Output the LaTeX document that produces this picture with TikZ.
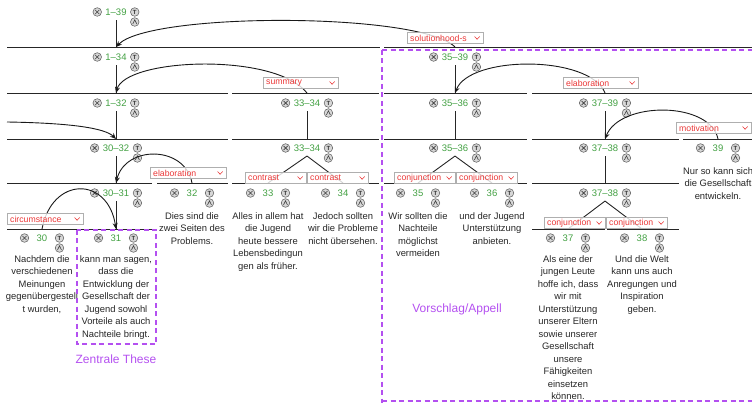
\documentclass[tikz,border=0pt]{standalone}
\usepackage{fontspec}
\setmainfont{Liberation Sans}
\usetikzlibrary{arrows.meta}
\definecolor{idgreen}{RGB}{66,160,66}
\definecolor{relred}{RGB}{235,55,55}
\definecolor{annpurple}{RGB}{180,80,240}
\definecolor{boxgray}{RGB}{175,175,175}
\definecolor{icongray}{RGB}{215,215,215}
\tikzset{
  spanline/.style={line width=0.9pt, black!85},
  rel/.style={line width=0.9pt, black!90, -{Stealth[length=6pt,width=5pt]}},
  idtext/.style={inner sep=0pt, text=idgreen, font=\fontsize{9.5}{11}\selectfont},
  leaftext/.style={inner sep=0pt, align=center, text=black!85, font=\fontsize{9.4}{12.5}\selectfont, anchor=north},
  relboxst/.style={draw=boxgray, fill=white, fill opacity=0.8, line width=0.6pt, inner sep=0pt, minimum height=11.5pt},
  reltext/.style={inner sep=0pt, text=relred, font=\fontsize{8.7}{10}\selectfont},
  annbox/.style={draw=annpurple, line width=1.5pt, dash pattern=on 5pt off 3.5pt},
  anndash/.style={draw=annpurple, line width=1.6pt},
  anntext/.style={text=annpurple, font=\fontsize{12}{14}\selectfont, inner sep=0pt},
  iconcirc/.style={fill=icongray, draw=black!65, line width=0.5pt},
  xicon/.pic={\draw[iconcirc] (0,0) circle (4.3pt); \draw[black!75, line width=0.6pt] (-2.1,-2.1) -- (2.1,2.1) (-2.1,2.1) -- (2.1,-2.1);},
  ticon/.pic={\draw[iconcirc] (0,0) circle (4.3pt); \node[font=\fontsize{6}{6}\selectfont\bfseries, text=black!80, inner sep=0pt] at (0,0) {T};},
  aicon/.pic={\draw[iconcirc] (0,0) circle (4.3pt); \draw[black!75, line width=0.6pt] (-2,2) -- (0,-2.2) -- (2,2);},
}
\newcommand\rstid[5]{%
  \node[idtext] (#1) at (#2,#3) {#4};
  \path (#1.west) ++(-#5,0) pic {xicon};
  \path (#1.east) ++(#5,0) pic {ticon};
  \path (#1.east) ++(#5,10) pic {aicon};
}
\newcommand\relbox[5]{%
  \node[relboxst, anchor=north west, minimum width=#4pt] (#1) at (#2,#3) {};
  \node[reltext, anchor=west] at ([xshift=3pt]#1.west) {#5};
  \draw[relred, line width=0.6pt] ([xshift=-9pt,yshift=1.5pt]#1.east) -- ([xshift=-6.5pt,yshift=-1.2pt]#1.east) -- ([xshift=-4pt,yshift=1.5pt]#1.east);
}
\begin{document}
\begin{tikzpicture}[x=1pt,y=-1pt]
\useasboundingbox (0,0) rectangle (752,403);

% annotation frame (right), drawn dash by dash
\foreach \x in {382,390.5,...,752} {
  \draw[anndash] (\x,50) -- ++(5,0);
  \draw[anndash] (\x,401) -- ++(5,0);
}
\foreach \y in {50,58.5,...,400} \draw[anndash] (382,\y) -- ++(0,5);

% span lines (tops of node boxes)
\foreach \a/\b/\y in {7/380/47, 384/752/47,
  7/228/93, 232/379/93, 384/527/93, 532/752/93,
  7/228/139, 232/379/139, 384/527/139, 532/679/139, 683/752/139,
  7/152/183, 157/228/183, 232/305/183, 308/379/183, 384/455/183, 457/527/183, 532/679/183,
  7/77/229, 79/153/229, 532/605/229, 607/679/229}
  \draw[spanline] (\a,\y) -- (\b,\y);

% box-top coordinates
\coordinate (t134) at (116,47);  \coordinate (t3539) at (455,47);
\coordinate (t132) at (116,93);  \coordinate (t3334a) at (307,93);
\coordinate (t3536a) at (455,93); \coordinate (t3739) at (605,93);
\coordinate (t3032) at (116,139); \coordinate (t3334b) at (307,139);
\coordinate (t3536b) at (455,139); \coordinate (t3738a) at (605,139);
\coordinate (t39) at (718,139);
\coordinate (t3031) at (116,183); \coordinate (t32) at (192,183);
\coordinate (t33) at (268,183); \coordinate (t34) at (343,183);
\coordinate (t35) at (418,183); \coordinate (t36) at (492,183);
\coordinate (t3738b) at (605,183);
\coordinate (t30) at (42,229); \coordinate (t31) at (116,229);
\coordinate (t37) at (568,229); \coordinate (t38) at (642,229);
\coordinate (offleft) at (7,122);

% node ids
\rstid{n139}{116}{12}{1--39}{8}
\rstid{n134}{116}{57}{1--34}{8}
\rstid{n3539}{455}{57}{35--39}{8}
\rstid{n132}{116}{103}{1--32}{8}
\rstid{n3334a}{307}{103}{33--34}{8}
\rstid{n3536a}{455}{103}{35--36}{8}
\rstid{n3739}{605}{103}{37--39}{8}
\rstid{n3032}{116}{148}{30--32}{8}
\rstid{n3334b}{307}{148}{33--34}{8}
\rstid{n3536b}{455}{148}{35--36}{8}
\rstid{n3738a}{605}{148}{37--38}{8}
\rstid{n39}{718}{148}{39}{12}
\rstid{n3031}{116}{193}{30--31}{8}
\rstid{n32}{192}{193}{32}{12}
\rstid{n33}{268}{193}{33}{12}
\rstid{n34}{343}{193}{34}{12}
\rstid{n35}{418}{193}{35}{12}
\rstid{n36}{492}{193}{36}{12}
\rstid{n3738b}{605}{193}{37--38}{8}
\rstid{n30}{42}{238}{30}{12}
\rstid{n31}{116}{238}{31}{12}
\rstid{n37}{568}{238}{37}{12}
\rstid{n38}{642}{238}{38}{12}

% span verticals
\foreach \p/\c in {n139/t134, n134/t132, n132/t3032, n3032/t3031, n3031/t31,
  n3539/t3536a, n3334a/t3334b, n3536a/t3536b, n3739/t3738a, n3738a/t3738b}
  \draw[spanline] ([yshift=-4.5pt]\p.south) -- (\c);
% multinuclear fans
\foreach \p/\c in {n3334b/t33, n3334b/t34, n3536b/t35, n3536b/t36, n3738b/t37, n3738b/t38}
  \draw[spanline] ([yshift=-4.5pt]\p.south) -- (\c);

% relation arcs
\draw[rel] (t3539) .. controls (420,12) and (150,12) .. (t134);
\draw[rel] (t3334a) .. controls (275,52) and (125,58) .. (t132);
\draw[rel] (t3739) .. controls (590,55) and (470,55) .. (t3536a);
\draw[rel] (t39) .. controls (710,101) and (620,101) .. (t3738a);
\draw[rel] (t32) .. controls (185,145) and (125,145) .. (t3031);
\draw[rel] (t30) .. controls (52,176) and (108,176) .. (t31);
\draw[rel] (offleft) .. controls (70,123) and (105,128) .. (t3032);

% relation labels
\relbox{rsol}{407}{32}{76}{solutionhood-s}
\relbox{rsum}{263}{77}{75}{summary}
\relbox{relab}{563}{77}{75}{elaboration}
\relbox{rmot}{676}{122}{75}{motivation}
\relbox{relabb}{150}{167}{76}{elaboration}
\relbox{rcirc}{7}{213}{76}{circumstance}
\relbox{rc33}{245}{172}{61}{contrast}
\relbox{rc34}{307}{172}{61}{contrast}
\relbox{rj35}{394}{172}{61}{conjunction}
\relbox{rj36}{456}{172}{61}{conjunction}
\relbox{rj37}{544}{217}{61}{conjunction}
\relbox{rj38}{606}{217}{61}{conjunction}

% leaf texts
\node[leaftext] (x30) at (42,255.3) {Nachdem die\\verschiedenen\\Meinungen\\gegenübergestell\\t wurden,};
\node[leaftext] (x31) at (116,255.3) {kann man sagen,\\dass die\\Entwicklung der\\Gesellschaft der\\Jugend sowohl\\Vorteile als auch\\Nachteile bringt.};
\node[leaftext] (x32) at (192,212.3) {Dies sind die\\zwei Seiten des\\Problems.};
\node[leaftext] (x33) at (268,212.3) {Alles in allem hat\\die Jugend\\heute bessere\\Lebensbedingun\\gen als früher.};
\node[leaftext] (x34) at (343,212.3) {Jedoch sollten\\wir die Probleme\\nicht übersehen.};
\node[leaftext] (x35) at (418,212.3) {Wir sollten die\\Nachteile\\möglichst\\vermeiden};
\node[leaftext] (x36) at (492,212.3) {und der Jugend\\Unterstützung\\anbieten.};
\node[leaftext] (x37) at (568,255.3) {Als eine der\\jungen Leute\\hoffe ich, dass\\wir mit\\Unterstützung\\unserer Eltern\\sowie unserer\\Gesellschaft\\unsere\\Fähigkeiten\\einsetzen\\können.};
\node[leaftext] (x38) at (642,255.3) {Und die Welt\\kann uns auch\\Anregungen und\\Inspiration\\geben.};
\node[leaftext] (x39) at (718,167.3) {Nur so kann sich\\die Gesellschaft\\entwickeln.};

% annotations
\draw[annbox] (77,230) rectangle (156,344);
\node[anntext] (zt) at (116,359) {Zentrale These};
\node[anntext] (va) at (457,309) {Vorschlag/Appell};
\end{tikzpicture}
\end{document}
